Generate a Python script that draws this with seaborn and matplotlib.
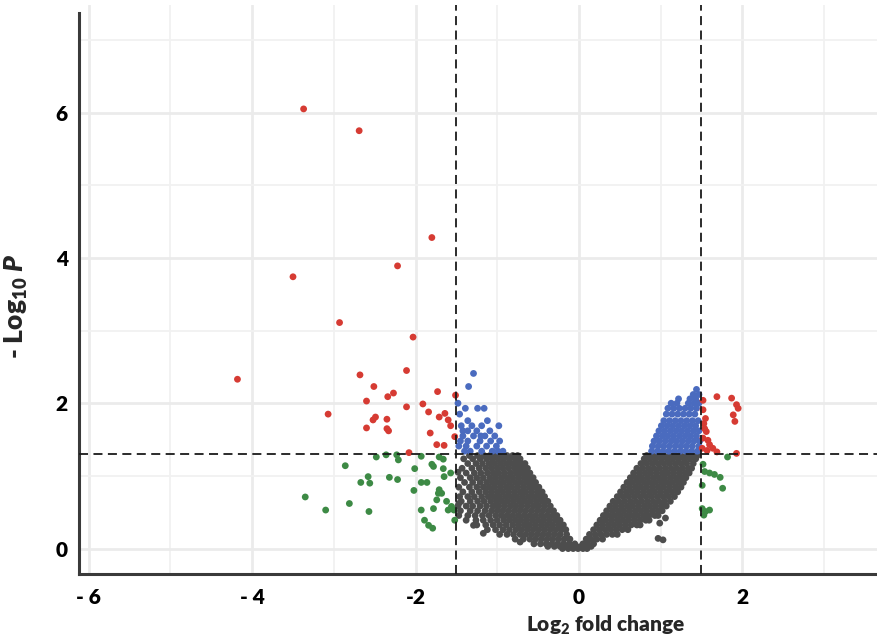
import numpy as np
import pandas as pd
import matplotlib
matplotlib.use("Agg")
import matplotlib.pyplot as plt
import seaborn as sns

# ---------------- data ----------------
# Non-significant genes (grey): rows of (-log10 P, [log2FC values])
gray_rows = [
    (0.00, [-0.20, -0.13, -0.07, -0.01, 0.05, 0.10]),
    (0.03, [-0.38, -0.30, -0.23, -0.16, -0.09, -0.03, 0.03, 0.09, 0.15]),
    (0.065, [-0.55, -0.47, -0.40, -0.33, -0.26, -0.19, -0.12, -0.05, 0.05, 0.11, 0.18]),
    (0.13, [-0.78, -0.68, -0.60, -0.53, -0.46, -0.39, -0.32, -0.25, -0.18, -0.11, 0.09, 0.15, 0.22, 0.29]),
    (0.195, [-0.97, -0.88, -0.80, -0.72, -0.65, -0.58, -0.51, -0.44, -0.37, -0.30, -0.23, -0.15,
             0.13, 0.20, 0.27, 0.34, 0.41, 0.47]),
    (0.26, [-1.12, -1.02, -0.93, -0.85, -0.77, -0.70, -0.63, -0.56, -0.49, -0.42, -0.35, -0.28, -0.21, -0.16,
            0.18, 0.25, 0.32, 0.39, 0.46, 0.53, 0.60]),
    (0.325, [-1.25, -1.14, -1.05, -0.97, -0.89, -0.81, -0.74, -0.67, -0.60, -0.53, -0.46, -0.39, -0.32, -0.25, -0.19,
             0.22, 0.29, 0.36, 0.43, 0.50, 0.57, 0.64, 0.71, 0.75]),
    (0.39, [-1.38, -1.26, -1.17, -1.08, -1.00, -0.92, -0.85, -0.78, -0.71, -0.64, -0.57, -0.50, -0.43, -0.36, -0.29, -0.23,
            0.26, 0.33, 0.40, 0.47, 0.54, 0.61, 0.68, 0.75, 0.82, 0.86]),
    (0.455, [-1.47, -1.36, -1.27, -1.18, -1.10, -1.02, -0.95, -0.88, -0.81, -0.74, -0.67, -0.60, -0.53, -0.46, -0.39, -0.32, -0.27,
             0.30, 0.37, 0.44, 0.51, 0.58, 0.65, 0.72, 0.79, 0.86, 0.93, 0.97]),
    (0.52, [-1.45, -1.33, -1.24, -1.15, -1.07, -1.00, -0.93, -0.86, -0.79, -0.72, -0.65, -0.58, -0.51, -0.44, -0.37, -0.31,
            0.34, 0.41, 0.48, 0.55, 0.62, 0.69, 0.76, 0.83, 0.90, 0.97, 1.02]),
    (0.585, [-1.48, -1.38, -1.30, -1.21, -1.13, -1.05, -0.98, -0.91, -0.84, -0.77, -0.70, -0.63, -0.56, -0.49, -0.42, -0.35,
             0.38, 0.45, 0.52, 0.59, 0.66, 0.73, 0.80, 0.87, 0.94, 1.01, 1.07]),
    (0.65, [-1.44, -1.33, -1.24, -1.16, -1.08, -1.01, -0.94, -0.87, -0.80, -0.73, -0.66, -0.59, -0.52, -0.45, -0.38,
            0.42, 0.49, 0.56, 0.63, 0.70, 0.77, 0.84, 0.91, 0.98, 1.05, 1.12]),
    (0.715, [-1.46, -1.36, -1.28, -1.19, -1.11, -1.04, -0.97, -0.90, -0.83, -0.76, -0.69, -0.62, -0.55, -0.48, -0.42,
             0.47, 0.54, 0.61, 0.68, 0.75, 0.82, 0.89, 0.96, 1.03, 1.10, 1.17]),
    (0.78, [-1.42, -1.31, -1.22, -1.14, -1.07, -1.00, -0.93, -0.86, -0.79, -0.72, -0.65, -0.58, -0.51, -0.45,
            0.51, 0.58, 0.65, 0.72, 0.79, 0.86, 0.93, 1.00, 1.07, 1.14, 1.21]),
    (0.845, [-1.47, -1.34, -1.25, -1.17, -1.10, -1.03, -0.96, -0.89, -0.82, -0.75, -0.68, -0.61, -0.55, -0.49,
             0.55, 0.62, 0.69, 0.76, 0.83, 0.90, 0.97, 1.04, 1.11, 1.18, 1.25]),
    (0.91, [-1.40, -1.30, -1.21, -1.13, -1.06, -0.99, -0.92, -0.85, -0.78, -0.71, -0.64, -0.58, -0.53,
            0.59, 0.66, 0.73, 0.80, 0.87, 0.94, 1.01, 1.08, 1.15, 1.22, 1.28]),
    (0.975, [-1.45, -1.33, -1.25, -1.17, -1.09, -1.02, -0.95, -0.88, -0.81, -0.74, -0.67, -0.61, -0.56,
             0.63, 0.70, 0.77, 0.84, 0.91, 0.98, 1.05, 1.12, 1.19, 1.26, 1.31]),
    (1.04, [-1.38, -1.28, -1.20, -1.12, -1.05, -0.98, -0.91, -0.84, -0.77, -0.71, -0.65, -0.60,
            0.67, 0.74, 0.81, 0.88, 0.95, 1.02, 1.09, 1.16, 1.23, 1.30, 1.35]),
    (1.105, [-1.43, -1.31, -1.22, -1.14, -1.07, -1.00, -0.93, -0.86, -0.79, -0.73, -0.67, -0.63,
             0.71, 0.78, 0.85, 0.92, 0.99, 1.06, 1.13, 1.20, 1.27, 1.34, 1.38]),
    (1.17, [-1.36, -1.26, -1.18, -1.10, -1.03, -0.96, -0.89, -0.82, -0.76, -0.70, -0.66,
            0.76, 0.83, 0.90, 0.97, 1.04, 1.11, 1.18, 1.25, 1.32, 1.40]),
    (1.235, [-1.41, -1.30, -1.21, -1.13, -1.06, -0.99, -0.92, -0.85, -0.78, -0.72,
             0.80, 0.87, 0.94, 1.01, 1.08, 1.15, 1.22, 1.29, 1.36, 1.43]),
    (1.28, [-1.34, -1.24, -1.16, -1.09, -1.02, -0.95, -0.88, -0.81, -0.75,
            0.83, 0.90, 0.97, 1.04, 1.11, 1.18, 1.25, 1.32, 1.39, 1.45]),
]
gray_extra_x = [-1.17, -1.29, -0.72, 0.97, 1.03, 0.99, 1.06, -1.47, -1.48]
gray_extra_y = [0.21, 0.32, 0.09, 0.14, 0.12, 0.35, 0.42, 0.62, 1.05]

# P < 0.05 but |log2FC| < 1.5 (blue)
blue_rows = [
    (1.34, [-1.40, -1.33, -1.19, -1.06, -0.99, -0.93, 0.89, 0.96, 1.03, 1.10, 1.17, 1.24, 1.31, 1.38, 1.45]),
    (1.41, [-1.47, -1.38, -1.25, -1.13, -1.01, 0.90, 0.97, 1.04, 1.11, 1.18, 1.25, 1.32, 1.39, 1.47]),
    (1.48, [-1.45, -1.36, -1.21, -1.08, -0.97, 0.92, 0.99, 1.06, 1.13, 1.20, 1.27, 1.34, 1.41, 1.48]),
    (1.55, [-1.42, -1.29, -1.20, -1.15, -1.03, 0.95, 1.02, 1.09, 1.16, 1.23, 1.30, 1.37, 1.44]),
    (1.62, [-1.42, -1.36, -1.25, -1.09, 0.98, 1.05, 1.12, 1.19, 1.26, 1.33, 1.40, 1.47]),
    (1.69, [-1.44, -1.31, -1.19, -0.98, 1.01, 1.08, 1.15, 1.22, 1.29, 1.36, 1.43]),
    (1.76, [-1.36, -1.12, 1.04, 1.11, 1.18, 1.25, 1.32, 1.39, 1.46]),
    (1.85, [-1.46, 1.07, 1.14, 1.21, 1.28, 1.35, 1.42]),
    (1.93, [-1.39, -1.24, -1.16, 1.09, 1.16, 1.23, 1.30, 1.37, 1.44]),
    (2.00, [-1.48, 1.13, 1.20, 1.34, 1.41, 1.47]),
    (2.06, [1.22, 1.36, 1.43]),
    (2.12, [1.40, 1.47]),
    (2.19, [1.44]),
    (2.23, [-1.35]),
    (2.41, [-1.29]),
]

# P < 0.05 and |log2FC| > 1.5 (red)
red_x = [-3.37, -2.69, -1.80, -2.22, -3.50, -2.93, -2.03, -4.18, -2.68, -2.51, -2.11, -3.07,
         -2.60, -2.34, -2.27, -2.11, -1.73, -1.91, -1.84, -2.49, -2.52, -2.35, -2.60, -2.35,
         -2.33, -1.82, -1.71, -1.64, -1.60, -1.57, -1.74, -1.65, -1.52, -2.08, -1.51,
         1.69, 1.87, 1.93, 1.95, 1.89, 1.91, 1.52, 1.53, 1.54, 1.56, 1.52, 1.58, 1.60,
         1.64, 1.69, 1.93, 1.55, 1.52, 1.51, 1.57]
red_y = [6.05, 5.75, 4.28, 3.89, 3.74, 3.11, 2.91, 2.33, 2.39, 2.23, 2.45, 1.85,
         2.03, 2.09, 2.14, 1.95, 2.16, 1.99, 1.88, 1.81, 1.77, 1.78, 1.66, 1.65,
         1.62, 1.59, 1.81, 1.86, 1.77, 1.69, 1.43, 1.42, 1.54, 1.32, 2.11,
         2.09, 2.07, 1.98, 1.93, 1.84, 1.75, 1.91, 1.72, 1.65, 1.61, 1.52, 1.49, 1.43,
         1.38, 1.33, 1.31, 1.79, 2.04, 1.38, 1.35]

# P > 0.05 and |log2FC| > 1.5 (green)
green_x = [-2.86, -3.35, -3.10, -2.81, -2.57, -2.67, -2.58, -2.56, -2.32, -2.22, -2.48, -2.36,
           -2.23, -2.21, -2.01, -1.93, -1.80, -1.78, -1.66, -1.66, -1.65, -1.71, -1.57, -1.93,
           -1.86, -2.02, -1.71, -1.68, -1.62, -1.78, -1.93, -1.60, -1.56, -1.89, -1.84, -1.79,
           -1.52, -1.53, -1.74, -1.72,
           1.82, 1.54, 1.60, 1.66, 1.73, 1.76, 1.52, 1.51, 1.51, 1.55, 1.60, 1.53]
green_y = [1.14, 0.71, 0.53, 0.62, 0.51, 0.91, 0.99, 0.90, 0.98, 0.95, 1.26, 1.29,
           1.29, 1.22, 1.10, 1.27, 1.16, 1.13, 1.23, 1.10, 0.99, 1.26, 1.04, 0.91,
           0.91, 0.80, 0.81, 0.76, 0.65, 0.55, 0.53, 0.53, 0.58, 0.39, 0.32, 0.28,
           0.39, 0.53, 0.67, 0.76,
           1.26, 1.06, 1.04, 1.02, 0.98, 0.83, 1.16, 0.87, 0.55, 0.51, 0.53, 0.46]

fc_cutoff = 1.5
p_cutoff = 1.301

x_ticks = [-6, -4, -2, 0, 2]
x_tick_labels = ["- 6", "- 4", "-2", "0", "2"]
y_ticks = [0, 2, 4, 6]
y_tick_labels = ["0", "2", "4", "6"]

# ---------------- build table ----------------
recs = []
for yv, xs in gray_rows:
    for xv in xs:
        recs.append((xv, yv, "NS"))
for xv, yv in zip(gray_extra_x, gray_extra_y):
    recs.append((xv, yv, "NS"))
for yv, xs in blue_rows:
    for xv in xs:
        recs.append((xv, yv, "P"))
for xv, yv in zip(red_x, red_y):
    recs.append((xv, yv, "P_FC"))
for xv, yv in zip(green_x, green_y):
    recs.append((xv, yv, "FC"))
df = pd.DataFrame(recs, columns=["log2fc", "nlogp", "group"])

# ---------------- style ----------------
sns.set_style("white")
FONT = "Lato"
WEIGHT = "heavy"
plt.rcParams["font.family"] = [FONT, "DejaVu Sans"]
plt.rcParams["font.weight"] = WEIGHT
plt.rcParams["mathtext.fontset"] = "custom"
plt.rcParams["mathtext.rm"] = FONT + ":" + WEIGHT
plt.rcParams["mathtext.bf"] = FONT + ":" + WEIGHT
plt.rcParams["mathtext.it"] = FONT + ":" + WEIGHT + ":italic"

fig = plt.figure(figsize=(8.77, 6.38), dpi=100)
ax = fig.add_axes([79 / 877, 64 / 638, 1 - 79 / 877, (574 - 5) / 638])

palette = {"NS": "#4d4d4d", "P": "#4a6bbf", "P_FC": "#d63b33", "FC": "#3d8a45"}
sns.scatterplot(data=df, x="log2fc", y="nlogp", hue="group", palette=palette,
                s=24, linewidth=0, legend=False, ax=ax, zorder=3)

ax.set_xlim(-6.12, 3.65)
ax.set_ylim(-0.35, 7.48)

ax.set_xticks(x_ticks)
ax.set_xticklabels(x_tick_labels)
ax.set_yticks(y_ticks)
ax.set_yticklabels(y_tick_labels)
ax.set_xticks([-5, -3, -1, 1, 3], minor=True)
ax.set_yticks([1, 3, 5, 7], minor=True)
ax.grid(True, which="major", color="#ebebeb", lw=2.0, zorder=0)
ax.grid(True, which="minor", color="#f1f1f1", lw=1.3, zorder=0)
ax.set_axisbelow(True)

for s in ["top", "right"]:
    ax.spines[s].set_visible(False)
for s in ["left", "bottom"]:
    ax.spines[s].set_color("#3a3a3a")
    ax.spines[s].set_linewidth(2.2)
ax.spines["left"].set_bounds(-0.35, 7.37)

ax.tick_params(axis="both", which="major", length=4, width=2, color="#3a3a3a",
               labelsize=15, labelcolor="black")
ax.tick_params(axis="x", which="major", pad=6)
ax.tick_params(axis="y", which="major", pad=4)
ax.tick_params(axis="both", which="minor", length=0)
for lbl in ax.get_xticklabels() + ax.get_yticklabels():
    lbl.set_fontweight(WEIGHT)

dash = (0, (5, 3))
ax.axvline(-fc_cutoff, color="#1a1a1a", lw=1.3, ls=dash, zorder=4)
ax.axvline(fc_cutoff, color="#1a1a1a", lw=1.3, ls=dash, zorder=4)
ax.axhline(p_cutoff, color="#1a1a1a", lw=1.3, ls=dash, zorder=4)

ax.set_xlabel(r"Log$_{\mathrm{2}}$ fold change", fontsize=15, fontweight=WEIGHT)
ax.set_ylabel(r"- Log$_{\mathrm{10}}$ $P$", fontsize=19, fontweight=WEIGHT)
ax.xaxis.set_label_coords(0.66, -0.07)
ax.yaxis.set_label_coords(-0.062, 0.47)

fig.savefig("out.png", dpi=100)
